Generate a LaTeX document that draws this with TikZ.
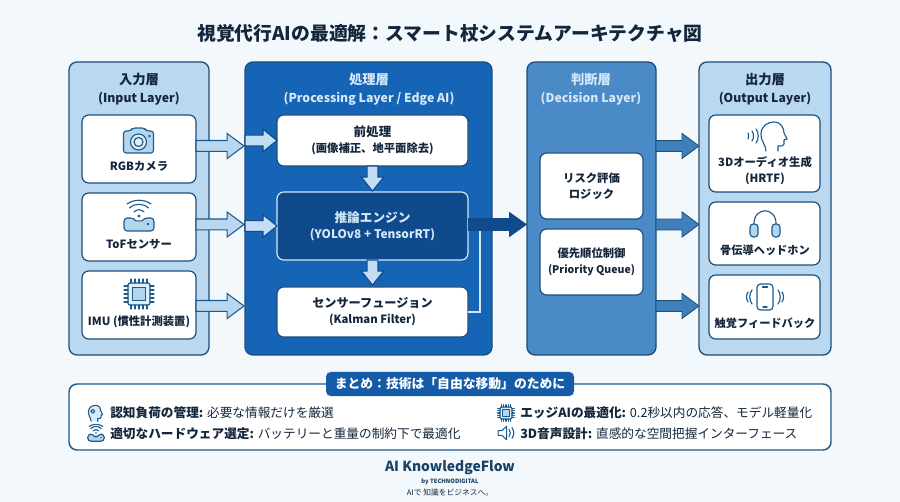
\documentclass[tikz,border=0pt]{standalone}
\usepackage{fontspec}
\setmainfont{Noto Sans CJK JP}
\usetikzlibrary{calc}
\definecolor{bgc}{HTML}{F3F8FC}
\definecolor{inkc}{HTML}{14263C}
\definecolor{edgec}{HTML}{1C4E78}
\definecolor{lightp}{HTML}{BAD9F1}
\definecolor{procp}{HTML}{1664B6}
\definecolor{decp}{HTML}{4A8BC7}
\definecolor{navy}{HTML}{0F4A8C}
\definecolor{arrowl}{HTML}{B9D7F0}
\definecolor{arrowm}{HTML}{3E7FBC}
\definecolor{iconc}{HTML}{1D5A8C}
\definecolor{iconf}{HTML}{B4D5EE}
\definecolor{pale}{HTML}{D6E8F7}
\newcommand{\fs}[2]{\fontsize{#1}{#2}\selectfont}
\newcommand{\latn}{\fs{9.2}{13.5}}
\tikzset{
  x=0.75pt,y=-0.75pt,
  panel/.style={draw=edgec,line width=1pt,rounded corners=6pt,inner sep=0pt,outer sep=0pt},
  card/.style={draw=edgec,line width=0.9pt,fill=white,rounded corners=5pt,inner sep=0pt,outer sep=0pt,text=inkc,align=center,font=\bfseries\fs{8.5}{12}},
  ptitle/.style={align=center,font=\bfseries\fs{10}{13.5},inner sep=0pt},
  lbl/.style={align=center,font=\bfseries\fs{8.5}{12},text=inkc,inner sep=0pt},
  sumtxt/.style={anchor=west,font=\fs{9.5}{12},text=inkc,inner sep=0pt},
  blk/.style n args={3}{to path={
    ($(\tikztostart)!#1!-90:(\tikztotarget)$)
    -- ($(\tikztotarget)!#3!(\tikztostart)!#1!-90:(\tikztotarget)$)
    -- ($(\tikztotarget)!#3!(\tikztostart)!#2!-90:(\tikztotarget)$)
    -- (\tikztotarget)
    -- ($(\tikztotarget)!#3!(\tikztostart)!#2!90:(\tikztotarget)$)
    -- ($(\tikztotarget)!#3!(\tikztostart)!#1!90:(\tikztotarget)$)
    -- ($(\tikztostart)!#1!90:(\tikztotarget)$) -- cycle}},
  arrowin/.style={blk={4.1pt}{9.4pt}{12.7pt},draw=iconc,line width=0.8pt,fill=arrowl,line join=miter},
  arrowsmall/.style={blk={4pt}{8.4pt}{10.5pt},draw=navy,line width=0.8pt,fill=arrowl!85!white},
  arrowout/.style={blk={4.1pt}{9.4pt}{12.7pt},draw=edgec,line width=0.6pt,fill=arrowm},
  arrownavy/.style={blk={4.8pt}{9.6pt}{13.5pt},fill=navy},
  ico/.style={draw=iconc,line width=0.85pt,line join=round,line cap=round},
}
% box by pixel corners: name, x1, y1, x2, y2, style, text
\newcommand{\pbox}[7]{\node[#6,minimum width={(#4-#2)*0.75pt},minimum height={(#5-#3)*0.75pt}] (#1) at ({(#2+#4)/2},{(#3+#5)/2}) {#7};}
\newcommand{\chipicon}[3]{\begin{scope}[shift={(#1,#2)},scale=#3]
  \draw[ico,rounded corners=1.5pt,fill=iconf!40!white] (-11,-11) rectangle (11,11);
  \draw[ico,fill=iconf] (-6.5,-6.5) rectangle (6.5,6.5);
  \foreach \p in {-8,-4,0,4,8}{
    \draw[ico] (\p,-11) -- (\p,-15); \draw[ico] (\p,11) -- (\p,15);
    \draw[ico] (-11,\p) -- (-15,\p); \draw[ico] (11,\p) -- (15,\p);}
\end{scope}}
\newcommand{\sensoricon}[3]{\begin{scope}[shift={(#1,#2)},scale=#3]
  \draw[ico,fill=iconf,rounded corners=2.5pt] (-15,2) -- (-5,2) .. controls (-3,5) and (3,5) .. (5,2) -- (15,2) -- (15,15) -- (-15,15) -- cycle;
  \fill[iconc] (0,0) circle [radius=1.6];
  \fill[iconc] (9,8) circle [radius=1.3];
  \draw[ico] (-5,-4) .. controls (-2,-7) and (2,-7) .. (5,-4);
  \draw[ico] (-9.5,-8) .. controls (-4,-13) and (4,-13) .. (9.5,-8);
  \draw[ico] (-12,-12) .. controls (-5,-17) and (5,-17) .. (12,-12);
\end{scope}}
\newcommand{\headpath}{(-7,15) .. controls (-7,9) and (-12,6) .. (-12,-2) .. controls (-12,-10) and (-5,-14) .. (1,-14) .. controls (8,-14) and (11,-8) .. (11,-3) -- (14,3) -- (11,4) -- (11,8) .. controls (11,10) and (9,10) .. (5,10) -- (5,15)}
\begin{document}
\begin{tikzpicture}
\useasboundingbox (0,0) rectangle (900,502);
\fill[bgc] (0,0) rectangle (900,502);

\node[font=\bfseries\fs{14.1}{16},text=inkc,inner sep=0pt] (title) at (450,34) {視覚代行AIの最適解：スマート杖システムアーキテクチャ図};

% panels
\pbox{inp}{69}{62}{209}{355}{panel,fill=lightp}{}
\pbox{proc}{245}{62}{492}{355}{panel,fill=procp}{}
\pbox{dec}{527}{62}{656}{355}{panel,fill=decp}{}
\pbox{outp}{699}{62}{831}{355}{panel,fill=lightp}{}

\node[ptitle,text=inkc] (inpT) at (139,89) {入力層\\{\latn (Input Layer)}};
\node[ptitle,text=pale] (procT) at (369,89) {処理層\\{\latn (Processing Layer / Edge AI)}};
\node[ptitle,text=pale] (decT) at (591,89) {判断層\\{\latn (Decision Layer)}};
\node[ptitle,text=inkc] (outT) at (765,89) {出力層\\{\latn (Output Layer)}};

% input cards
\pbox{rgb}{82}{115}{196}{183}{card}{}
\pbox{tof}{82}{193}{196}{261}{card}{}
\pbox{imu}{82}{271}{196}{339}{card}{}
\node[lbl] (rgbL) at (139,166) {RGBカメラ};
\node[lbl] (tofL) at (139,244) {ToFセンサー};
\node[lbl] (imuL) at (139,322) {IMU (慣性計測装置)};

% processing cards
\pbox{pre}{277}{115}{468}{166}{card,font=\bfseries\fs{9.4}{12}}{前処理\\{\fs{8.5}{12}(画像補正、地平面除去)}}
\pbox{eng}{277}{192}{468}{260}{card,fill=navy,draw=pale,text=pale,font=\bfseries\fs{9.5}{12}}{推論エンジン\\{\fs{8.9}{12}(YOLOv8 + TensorRT)}}
\pbox{fus}{277}{287}{468}{337}{card,font=\bfseries\fs{9.1}{12}}{センサーフュージョン\\{\fs{8.5}{12}(Kalman Filter)}}

% decision cards
\pbox{risk}{540}{153}{643}{219}{card}{リスク評価\\ロジック}
\pbox{prio}{540}{229}{643}{295}{card}{優先順位制御\\{\fs{7.9}{12}(Priority Queue)}}

% output cards
\pbox{aud}{709}{115}{820}{192}{card}{}
\pbox{bone}{709}{202}{820}{265}{card}{}
\pbox{hap}{709}{275}{820}{339}{card}{}
\node[lbl,font=\bfseries\fs{8.5}{12}] (audL) at (765,171) {3Dオーディオ生成\\(HRTF)};
\node[lbl,font=\bfseries\fs{8.4}{12}] (boneL) at (765,250) {骨伝導ヘッドホン};
\node[lbl,font=\bfseries\fs{8.4}{12}] (hapL) at (765,323) {触覚フィードバック};

% icons
\begin{scope}[shift={(138.5,141)}]
  \draw[ico,fill=iconf,rounded corners=2pt] (-15,-10) -- (-8,-10) -- (-6,-13) -- (6,-13) -- (8,-10) -- (15,-10) -- (15,12) -- (-15,12) -- cycle;
  \draw[ico,fill=iconf!40!white] (0,1) circle [radius=8];
  \draw[ico] (0,1) circle [radius=4.5];
  \fill[iconc] (11,-5) circle [radius=1.3];
\end{scope}
\sensoricon{139}{216}{1}
\chipicon{139}{294}{1}
\begin{scope}[shift={(773,136)}]
  \draw[ico] \headpath;
  \draw[ico] (-17,-7) .. controls (-14,-3) and (-14,3) .. (-17,7);
  \draw[ico] (-21,-5) .. controls (-19,-2) and (-19,2) .. (-21,5);
  \draw[ico] (-25,-3) .. controls (-24,-1) and (-24,1) .. (-25,3);
\end{scope}
\begin{scope}[shift={(765,223)}]
  \draw[ico] (-11,2) .. controls (-12,-17) and (12,-17) .. (11,2);
  \draw[ico,fill=iconf,rounded corners=2.5pt] (-15,1) rectangle (-7,14);
  \draw[ico,fill=iconf,rounded corners=2.5pt] (7,1) rectangle (15,14);
\end{scope}
\begin{scope}[shift={(765,297)}]
  \draw[ico,fill=white,rounded corners=2.5pt] (-8,-13) rectangle (8,13);
  \draw[ico] (-2.5,-10) -- (2.5,-10);
  \draw[ico] (-2,10) -- (2,10);
  \draw[ico] (-13,-7) .. controls (-16,-3) and (-16,3) .. (-13,7);
  \draw[ico] (-17,-5) .. controls (-19,-2) and (-19,2) .. (-17,5);
  \draw[ico] (13,-7) .. controls (16,-3) and (16,3) .. (13,7);
  \draw[ico] (17,-5) .. controls (19,-2) and (19,2) .. (17,5);
\end{scope}

% connector end points
\coordinate (t1) at (244,146); \coordinate (t2) at (244,224.5); \coordinate (t3) at (244,306);
\coordinate (s1) at (rgb.east |- t1); \coordinate (s2) at (tof.east |- t2); \coordinate (s3) at (imu.east |- t3);
\coordinate (u1) at (proc.west |- pre.west); \coordinate (u2) at (proc.west |- eng.west);
\coordinate (v1) at (pre.west); \coordinate (v2) at (eng.west);
\coordinate (preS) at (pre.south); \coordinate (engN) at ([yshift=0.75pt]eng.north);
\coordinate (engS) at (eng.south); \coordinate (fusN) at ([yshift=1.5pt]fus.north);
\coordinate (engE) at ($(eng.east)+(0,-1.5)$); \coordinate (decW) at (dec.west |- engE);
\coordinate (o1) at (outp.west |- t1); \coordinate (o2) at (outp.west |- t2); \coordinate (o3) at (outp.west |- t3);
\coordinate (d1) at (dec.east |- t1); \coordinate (d2) at (dec.east |- t2); \coordinate (d3) at (dec.east |- t3);
\coordinate (bend) at (480,312);

\draw[arrowin] (s1) to (t1);
\draw[arrowin] (s2) to (t2);
\draw[arrowin] (s3) to (t3);
\draw[arrowsmall] (u1) to (v1);
\draw[arrowsmall] (u2) to (v2);
\draw[arrowsmall] (preS) to (engN);
\draw[arrowsmall] (engS) to (fusN);
\draw[arrowout] (d1) to (o1);
\draw[arrowout] (d2) to (o2);
\draw[arrowout] (d3) to (o3);
\draw[pale,line width=1pt] (fus.east |- bend) -- (bend) -- (480,231);
\path[arrownavy,draw=none] (engE) to (decW);

% summary
\pbox{sum}{69}{384}{831}{450}{draw=iconc,line width=1.1pt,fill=white,rounded corners=6pt,inner sep=0pt,outer sep=0pt}{}
\pbox{ban}{326}{372}{574}{396}{fill=procp!92!black,rounded corners=3.5pt,inner sep=0pt,outer sep=0pt,text=white,font=\bfseries\fs{9.6}{12}}{まとめ：技術は「自由な移動」のために}

\node[sumtxt] (s1t) at (110,413) {\textbf{認知負荷の管理:} 必要な情報だけを厳選};
\node[sumtxt] (s2t) at (110,434) {\textbf{適切なハードウェア選定:} バッテリーと重量の制約下で最適化};
\node[sumtxt] (s3t) at (520,413) {\textbf{エッジAIの最適化:} 0.2秒以内の応答、モデル軽量化};
\node[sumtxt] (s4t) at (520,434) {\textbf{3D音声設計:} 直感的な空間把握インターフェース};

\begin{scope}[shift={(95,413)},scale=0.55]
  \draw[ico,line width=0.8pt,fill=iconf!50!white] \headpath;
  \draw[ico,line width=0.8pt] (-4,-3) circle [radius=3.5];
\end{scope}
\sensoricon{96}{433}{0.55}
\chipicon{506}{413}{0.55}
\begin{scope}[shift={(506,433)},scale=0.6]
  \draw[ico,line width=0.8pt] (-13,-4) -- (-7,-4) -- (1,-11) -- (1,11) -- (-7,4) -- (-13,4) -- cycle;
  \draw[ico,line width=0.8pt] (5,-6) .. controls (8,-2) and (8,2) .. (5,6);
  \draw[ico,line width=0.8pt] (10,-9) .. controls (14,-3) and (14,3) .. (10,9);
\end{scope}

% footer
\node[font=\bfseries\fs{10.4}{14},text=edgec!85!black,inner sep=0pt] (brand) at (450,468) {AI KnowledgeFlow};
\node[font=\bfseries\fs{4.4}{6},text=edgec!85!black,inner sep=0pt] (by) at (450,481.5) {by TECHNODIGITAL};
\node[font=\fs{5.8}{7},text=inkc,inner sep=0pt] (slogan) at (450,492.5) {AIで 知識をビジネスへ。};
\end{tikzpicture}
\end{document}
